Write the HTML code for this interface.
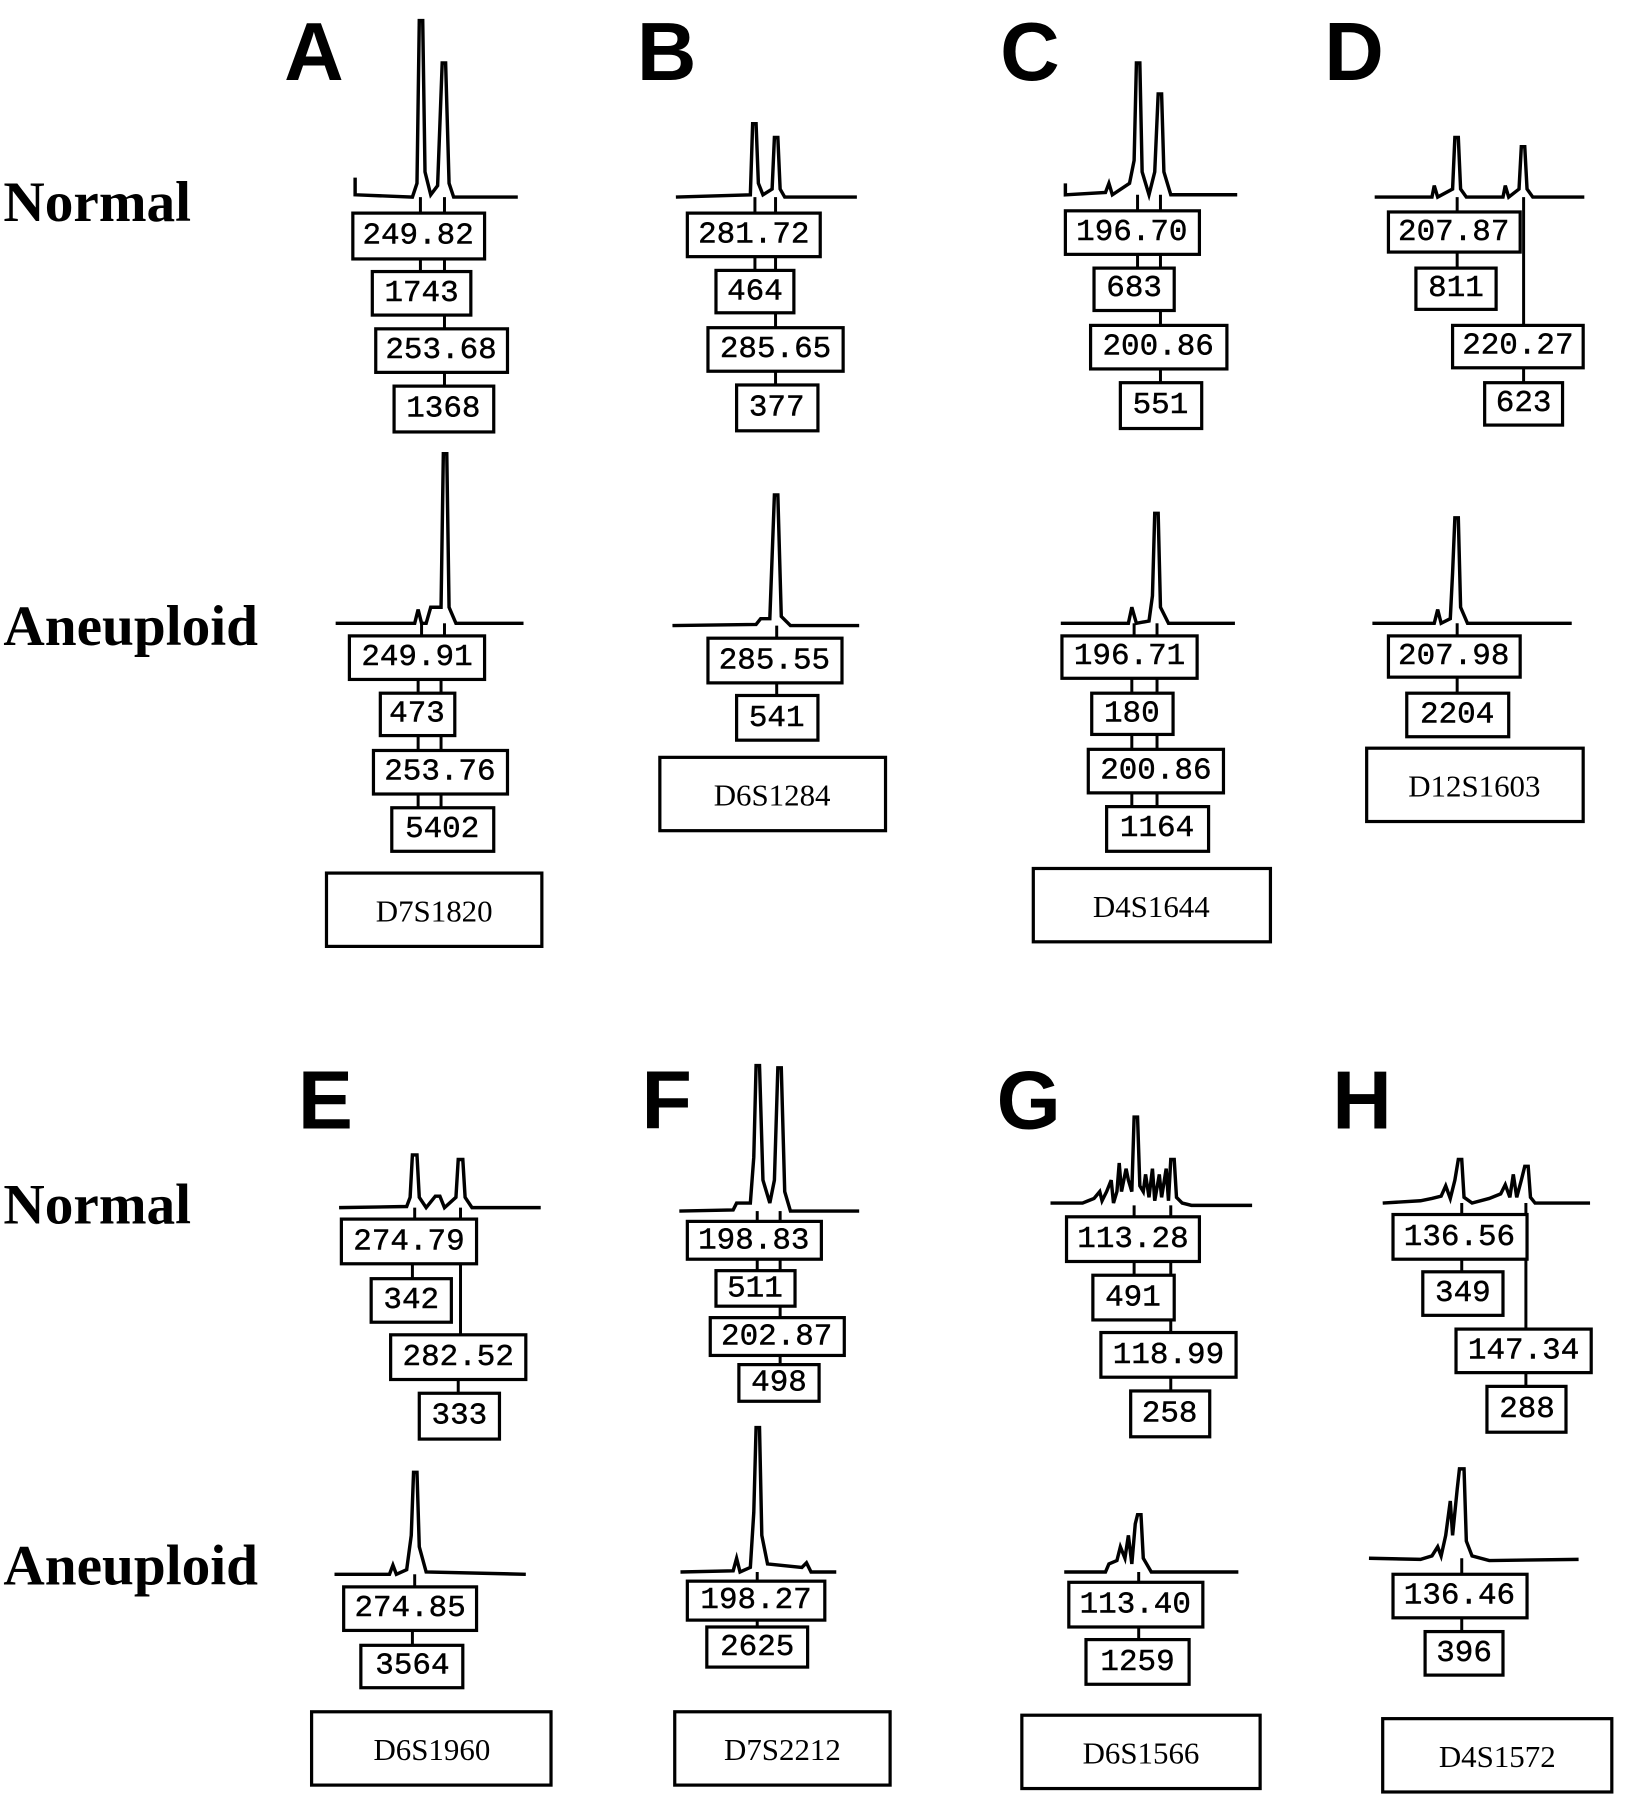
<!DOCTYPE html>
<html><head><meta charset="utf-8"><style>
html,body{margin:0;padding:0;background:#fff;}
svg{display:block;}
.b{fill:#fff;stroke:#000;stroke-width:2.8;}
.n{font-family:"Liberation Mono",monospace;font-size:27px;text-anchor:middle;dominant-baseline:central;stroke:#000;stroke-width:0.4;}
.m{font-family:"Liberation Serif",serif;font-size:27px;text-anchor:middle;dominant-baseline:central;}
.lab{font-family:"Liberation Serif",serif;font-weight:bold;font-size:50px;}
.let{font-family:"Liberation Sans",sans-serif;font-weight:bold;font-size:72px;}
.t{fill:none;stroke:#000;stroke-width:3;stroke-linejoin:miter;}
.c{stroke:#000;stroke-width:2.6;}
</style></head><body>
<svg width="1629" height="1800" viewBox="0 0 1422 1571" preserveAspectRatio="none" xmlns="http://www.w3.org/2000/svg">
<text class="lab" x="3" y="193">Normal</text>
<text class="lab" x="3" y="563">Aneuploid</text>
<text class="lab" x="3" y="1068">Normal</text>
<text class="lab" x="3" y="1383">Aneuploid</text>
<text class="let" x="248" y="70">A</text>
<text class="let" x="556" y="70">B</text>
<text class="let" x="873" y="70">C</text>
<text class="let" x="1156" y="70">D</text>
<text class="let" x="260" y="985">E</text>
<text class="let" x="560" y="985">F</text>
<text class="let" x="870" y="985">G</text>
<text class="let" x="1163" y="985">H</text>

<!-- A normal -->
<path class="t" d="M310 155 L310 170 L360 172 L364 160 L366 18 L369 18 L371 150 L376 170 L382 162 L386 55 L389 55 L392 160 L396 172 L452 172"/>
<line class="c" x1="367" y1="172" x2="367" y2="237"/><line class="c" x1="388" y1="172" x2="388" y2="237"/>
<line class="c" x1="388" y1="275" x2="388" y2="337"/>
<rect class="b" x="308" y="186" width="115" height="40"/><text class="n" x="365" y="206">249.82</text>
<rect class="b" x="325" y="237" width="86" height="38"/><text class="n" x="368" y="256">1743</text>
<rect class="b" x="328" y="287" width="115" height="38"/><text class="n" x="385" y="306">253.68</text>
<rect class="b" x="344" y="337" width="87" height="40"/><text class="n" x="387" y="357">1368</text>
<!-- A aneuploid -->
<path class="t" d="M293 544 L362 544 L365 532 L368 544 L372 544 L376 530 L385 530 L387 396 L390 396 L392 530 L398 544 L457 544"/>
<line class="c" x1="368" y1="544" x2="368" y2="555"/><line class="c" x1="388" y1="544" x2="388" y2="555"/>
<line class="c" x1="365" y1="593" x2="365" y2="705"/><line class="c" x1="385" y1="593" x2="385" y2="705"/>
<rect class="b" x="305" y="555" width="118" height="38"/><text class="n" x="364" y="574">249.91</text>
<rect class="b" x="332" y="605" width="65" height="37"/><text class="n" x="364" y="623">473</text>
<rect class="b" x="326" y="655" width="117" height="38"/><text class="n" x="384" y="674">253.76</text>
<rect class="b" x="342" y="705" width="89" height="38"/><text class="n" x="386" y="724">5402</text>
<rect class="b" x="285" y="762" width="188" height="64"/><text class="m" x="379" y="795">D7S1820</text>

<!-- B normal -->
<path class="t" d="M590 172 L655 170 L657 108 L660 108 L662 160 L666 170 L674 165 L676 120 L679 120 L681 165 L685 172 L748 172"/>
<line class="c" x1="659" y1="172" x2="659" y2="236"/><line class="c" x1="677" y1="172" x2="677" y2="236"/>
<line class="c" x1="677" y1="273" x2="677" y2="336"/>
<rect class="b" x="600" y="186" width="116" height="38"/><text class="n" x="658" y="205">281.72</text>
<rect class="b" x="625" y="236" width="68" height="37"/><text class="n" x="659" y="255">464</text>
<rect class="b" x="618" y="286" width="118" height="38"/><text class="n" x="677" y="305">285.65</text>
<rect class="b" x="643" y="336" width="71" height="40"/><text class="n" x="678" y="356">377</text>
<!-- B aneuploid -->
<path class="t" d="M587 546 L660 545 L664 540 L672 540 L676 432 L679 432 L682 538 L690 546 L750 546"/>
<line class="c" x1="678" y1="546" x2="678" y2="607"/>
<rect class="b" x="618" y="557" width="117" height="39"/><text class="n" x="676" y="577">285.55</text>
<rect class="b" x="643" y="607" width="71" height="39"/><text class="n" x="678" y="627">541</text>
<rect class="b" x="576" y="661" width="197" height="64"/><text class="m" x="674" y="694">D6S1284</text>

<!-- C normal -->
<path class="t" d="M930 160 L930 170 L965 168 L968 160 L971 170 L986 160 L990 140 L992 55 L995 55 L997 150 L1003 170 L1008 150 L1011 82 L1014 82 L1016 150 L1022 170 L1080 170"/>
<line class="c" x1="993" y1="170" x2="993" y2="234"/><line class="c" x1="1013" y1="170" x2="1013" y2="234"/>
<line class="c" x1="1013" y1="271" x2="1013" y2="334"/>
<rect class="b" x="930" y="184" width="117" height="38"/><text class="n" x="988" y="203">196.70</text>
<rect class="b" x="955" y="234" width="70" height="37"/><text class="n" x="990" y="252">683</text>
<rect class="b" x="952" y="284" width="119" height="38"/><text class="n" x="1011" y="303">200.86</text>
<rect class="b" x="978" y="334" width="71" height="40"/><text class="n" x="1013" y="354">551</text>
<!-- C aneuploid -->
<path class="t" d="M926 544 L985 544 L988 530 L992 544 L1003 542 L1006 520 L1008 448 L1011 448 L1013 530 L1020 544 L1078 544"/>
<line class="c" x1="990" y1="544" x2="990" y2="555"/><line class="c" x1="1010" y1="544" x2="1010" y2="555"/>
<line class="c" x1="988" y1="592" x2="988" y2="704"/><line class="c" x1="1010" y1="592" x2="1010" y2="704"/>
<rect class="b" x="927" y="555" width="118" height="37"/><text class="n" x="986" y="573">196.71</text>
<rect class="b" x="953" y="605" width="71" height="36"/><text class="n" x="988" y="623">180</text>
<rect class="b" x="950" y="654" width="118" height="38"/><text class="n" x="1009" y="673">200.86</text>
<rect class="b" x="966" y="704" width="89" height="39"/><text class="n" x="1010" y="723">1164</text>
<rect class="b" x="902" y="758" width="207" height="64"/><text class="m" x="1005" y="791">D4S1644</text>

<!-- D normal -->
<path class="t" d="M1200 172 L1250 172 L1252 162 L1255 172 L1268 165 L1270 120 L1273 120 L1275 165 L1280 172 L1312 172 L1314 162 L1317 172 L1326 165 L1328 128 L1331 128 L1333 165 L1338 172 L1383 172"/>
<line class="c" x1="1272" y1="172" x2="1272" y2="234"/><line class="c" x1="1330" y1="172" x2="1330" y2="334"/>
<rect class="b" x="1212" y="185" width="115" height="35"/><text class="n" x="1269" y="203">207.87</text>
<rect class="b" x="1236" y="234" width="70" height="36"/><text class="n" x="1271" y="252">811</text>
<rect class="b" x="1268" y="284" width="114" height="37"/><text class="n" x="1325" y="302">220.27</text>
<rect class="b" x="1296" y="334" width="68" height="37"/><text class="n" x="1330" y="352">623</text>
<!-- D aneuploid -->
<path class="t" d="M1198 544 L1252 544 L1255 532 L1258 544 L1266 540 L1268 500 L1270 452 L1273 452 L1275 530 L1281 544 L1372 544"/>
<line class="c" x1="1272" y1="544" x2="1272" y2="605"/>
<rect class="b" x="1212" y="555" width="115" height="36"/><text class="n" x="1269" y="573">207.98</text>
<rect class="b" x="1228" y="605" width="89" height="38"/><text class="n" x="1272" y="624">2204</text>
<rect class="b" x="1193" y="653" width="189" height="64"/><text class="m" x="1287" y="686">D12S1603</text>

<!-- E normal -->
<path class="t" d="M296 1054 L355 1053 L358 1045 L360 1008 L364 1008 L366 1045 L372 1054 L380 1044 L384 1044 L388 1054 L398 1045 L400 1012 L404 1012 L406 1045 L412 1054 L472 1054"/>
<line class="c" x1="362" y1="1054" x2="362" y2="1064"/><line class="c" x1="402" y1="1054" x2="402" y2="1165"/>
<line class="c" x1="360" y1="1103" x2="360" y2="1116"/><line class="c" x1="400" y1="1204" x2="400" y2="1216"/>
<rect class="b" x="298" y="1064" width="118" height="39"/><text class="n" x="357" y="1084">274.79</text>
<rect class="b" x="324" y="1116" width="70" height="38"/><text class="n" x="359" y="1135">342</text>
<rect class="b" x="341" y="1165" width="118" height="39"/><text class="n" x="400" y="1185">282.52</text>
<rect class="b" x="366" y="1216" width="70" height="40"/><text class="n" x="401" y="1236">333</text>
<!-- E aneuploid -->
<path class="t" d="M292 1374 L340 1374 L343 1366 L346 1374 L355 1370 L359 1340 L361 1285 L364 1285 L366 1350 L372 1372 L459 1374"/>
<line class="c" x1="362" y1="1374" x2="362" y2="1385"/><line class="c" x1="360" y1="1423" x2="360" y2="1436"/>
<rect class="b" x="300" y="1385" width="116" height="38"/><text class="n" x="358" y="1404">274.85</text>
<rect class="b" x="315" y="1436" width="89" height="37"/><text class="n" x="360" y="1454">3564</text>
<rect class="b" x="272" y="1494" width="209" height="64"/><text class="m" x="377" y="1527">D6S1960</text>

<!-- F normal -->
<path class="t" d="M593 1057 L640 1056 L643 1050 L655 1050 L658 1010 L660 930 L663 930 L666 1030 L672 1050 L676 1030 L679 932 L682 932 L685 1040 L690 1057 L750 1057"/>
<line class="c" x1="661" y1="1057" x2="661" y2="1109"/><line class="c" x1="681" y1="1057" x2="681" y2="1109"/>
<line class="c" x1="681" y1="1140" x2="681" y2="1191"/>
<rect class="b" x="600" y="1066" width="117" height="33"/><text class="n" x="658" y="1083">198.83</text>
<rect class="b" x="625" y="1109" width="69" height="31"/><text class="n" x="659" y="1125">511</text>
<rect class="b" x="620" y="1150" width="117" height="33"/><text class="n" x="678" y="1167">202.87</text>
<rect class="b" x="645" y="1191" width="70" height="32"/><text class="n" x="680" y="1207">498</text>
<!-- F aneuploid -->
<path class="t" d="M594 1372 L640 1371 L643 1360 L646 1372 L655 1368 L658 1320 L660 1246 L663 1246 L665 1340 L670 1365 L700 1368 L704 1364 L708 1372 L730 1372"/>
<line class="c" x1="661" y1="1372" x2="661" y2="1420"/>
<rect class="b" x="600" y="1380" width="120" height="34"/><text class="n" x="660" y="1397">198.27</text>
<rect class="b" x="617" y="1420" width="88" height="35"/><text class="n" x="661" y="1438">2625</text>
<rect class="b" x="589" y="1494" width="188" height="64"/><text class="m" x="683" y="1527">D7S2212</text>

<!-- G normal -->
<path class="t" d="M917 1050 L945 1050 L950 1048 L955 1046 L960 1040 L962 1048 L966 1040 L970 1030 L972 1050 L975 1040 L977 1015 L979 1040 L983 1020 L985 1030 L988 1040 L990 975 L993 975 L995 1035 L998 1040 L1000 1025 L1003 1045 L1006 1020 L1008 1048 L1012 1025 L1014 1045 L1018 1020 L1020 1048 L1022 1012 L1025 1012 L1027 1045 L1032 1050 L1040 1052 L1093 1052"/>
<line class="c" x1="990" y1="1052" x2="990" y2="1113"/><line class="c" x1="1022" y1="1052" x2="1022" y2="1062"/>
<line class="c" x1="1022" y1="1101" x2="1022" y2="1163"/><line class="c" x1="1022" y1="1202" x2="1022" y2="1214"/>
<rect class="b" x="931" y="1062" width="116" height="39"/><text class="n" x="989" y="1082">113.28</text>
<rect class="b" x="954" y="1113" width="71" height="39"/><text class="n" x="989" y="1133">491</text>
<rect class="b" x="961" y="1163" width="118" height="39"/><text class="n" x="1020" y="1183">118.99</text>
<rect class="b" x="987" y="1214" width="69" height="40"/><text class="n" x="1021" y="1234">258</text>
<!-- G aneuploid -->
<path class="t" d="M929 1372 L965 1372 L968 1365 L975 1362 L978 1350 L982 1360 L985 1340 L988 1365 L991 1330 L993 1322 L996 1322 L998 1360 L1005 1372 L1081 1372"/>
<line class="c" x1="994" y1="1372" x2="994" y2="1381"/><line class="c" x1="994" y1="1420" x2="994" y2="1431"/>
<rect class="b" x="933" y="1381" width="117" height="39"/><text class="n" x="991" y="1401">113.40</text>
<rect class="b" x="948" y="1431" width="90" height="39"/><text class="n" x="993" y="1451">1259</text>
<rect class="b" x="892" y="1497" width="208" height="64"/><text class="m" x="996" y="1530">D6S1566</text>

<!-- H normal -->
<path class="t" d="M1207 1050 L1240 1048 L1250 1046 L1258 1044 L1262 1035 L1266 1046 L1270 1030 L1273 1012 L1276 1012 L1278 1045 L1285 1050 L1300 1046 L1310 1042 L1314 1034 L1318 1045 L1321 1025 L1324 1045 L1328 1030 L1331 1018 L1334 1018 L1336 1045 L1340 1050 L1388 1050"/>
<line class="c" x1="1276" y1="1050" x2="1276" y2="1110"/><line class="c" x1="1332" y1="1050" x2="1332" y2="1160"/>
<line class="c" x1="1332" y1="1198" x2="1332" y2="1210"/>
<rect class="b" x="1216" y="1060" width="117" height="39"/><text class="n" x="1274" y="1080">136.56</text>
<rect class="b" x="1242" y="1110" width="70" height="38"/><text class="n" x="1277" y="1129">349</text>
<rect class="b" x="1271" y="1160" width="118" height="38"/><text class="n" x="1330" y="1179">147.34</text>
<rect class="b" x="1298" y="1210" width="69" height="40"/><text class="n" x="1333" y="1230">288</text>
<!-- H aneuploid -->
<path class="t" d="M1195 1360 L1240 1361 L1250 1358 L1255 1350 L1258 1358 L1262 1340 L1266 1310 L1268 1340 L1272 1300 L1274 1282 L1278 1282 L1280 1345 L1285 1358 L1300 1362 L1378 1361"/>
<line class="c" x1="1276" y1="1360" x2="1276" y2="1424"/>
<rect class="b" x="1216" y="1374" width="117" height="38"/><text class="n" x="1274" y="1393">136.46</text>
<rect class="b" x="1244" y="1424" width="68" height="38"/><text class="n" x="1278" y="1443">396</text>
<rect class="b" x="1207" y="1500" width="200" height="64"/><text class="m" x="1307" y="1533">D4S1572</text>
</svg>
</body></html>
